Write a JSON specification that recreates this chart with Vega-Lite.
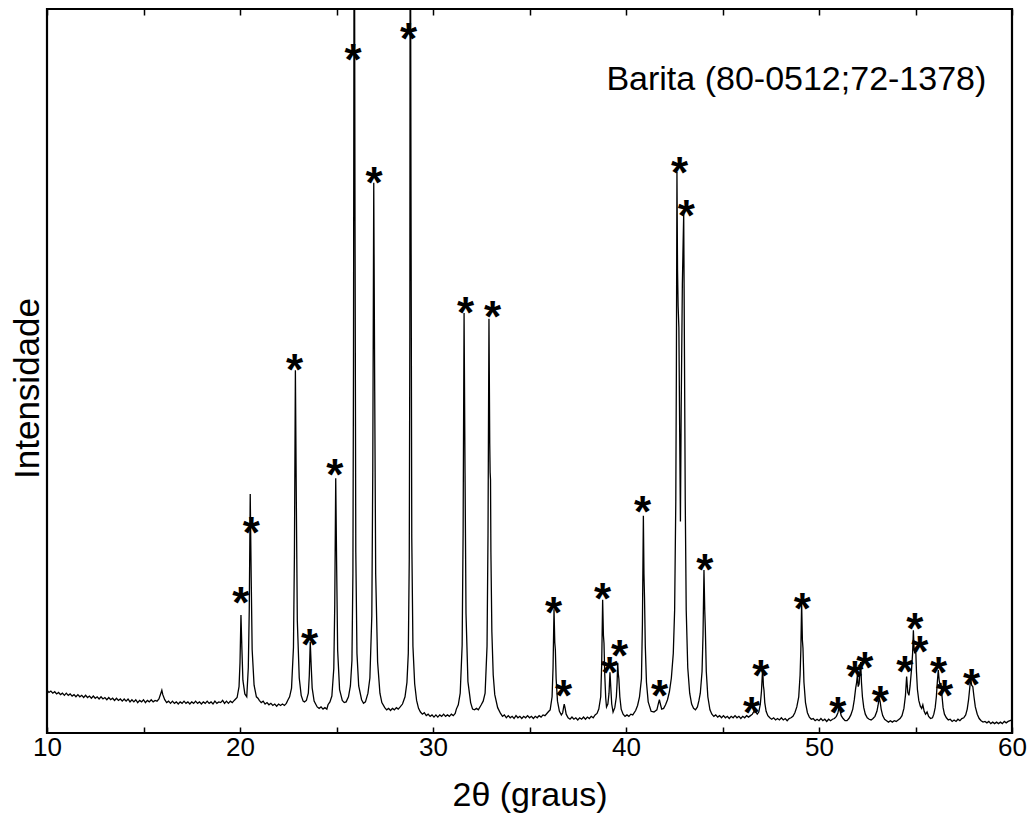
{
  "$schema": "https://vega.github.io/schema/vega-lite/v6.json",
  "width": 965,
  "height": 724,
  "autosize": "none",
  "padding": {"left": 47, "top": 9, "right": 22, "bottom": 83},
  "background": "white",
  "config": {"view": {"stroke": "black", "strokeWidth": 2.2}, "font": "Liberation Sans", "axis": {"grid": false}},
  "datasets": {
    "xrd": [
      {"t":10.0,"i":5.9},{"t":10.1,"i":5.6},{"t":10.2,"i":5.8},{"t":10.3,"i":5.5},{"t":10.4,"i":5.7},{"t":10.5,"i":5.4},{"t":10.6,"i":5.6},{"t":10.7,"i":5.3},{"t":10.8,"i":5.5},{"t":10.9,"i":5.2},
      {"t":11.0,"i":5.5},{"t":11.1,"i":5.2},{"t":11.2,"i":5.4},{"t":11.3,"i":5.1},{"t":11.4,"i":5.3},{"t":11.5,"i":5.0},{"t":11.6,"i":5.3},{"t":11.7,"i":5.0},{"t":11.8,"i":5.2},{"t":11.9,"i":4.9},
      {"t":12.0,"i":5.2},{"t":12.1,"i":4.9},{"t":12.2,"i":5.1},{"t":12.3,"i":4.8},{"t":12.4,"i":5.1},{"t":12.5,"i":4.8},{"t":12.6,"i":5.0},{"t":12.7,"i":4.7},{"t":12.8,"i":5.0},{"t":12.9,"i":4.7},
      {"t":13.0,"i":4.9},{"t":13.1,"i":4.6},{"t":13.2,"i":4.9},{"t":13.3,"i":4.6},{"t":13.4,"i":4.8},{"t":13.5,"i":4.5},{"t":13.6,"i":4.8},{"t":13.7,"i":4.5},{"t":13.8,"i":4.7},{"t":13.9,"i":4.4},
      {"t":14.0,"i":4.7},{"t":14.1,"i":4.4},{"t":14.2,"i":4.7},{"t":14.3,"i":4.3},{"t":14.4,"i":4.6},{"t":14.5,"i":4.3},{"t":14.6,"i":4.6},{"t":14.7,"i":4.2},{"t":14.8,"i":4.5},{"t":14.9,"i":4.3},
      {"t":15.0,"i":4.6},{"t":15.1,"i":4.2},{"t":15.2,"i":4.5},{"t":15.3,"i":4.3},{"t":15.4,"i":4.6},{"t":15.5,"i":4.3},{"t":15.6,"i":4.5},{"t":15.7,"i":4.4},{"t":15.8,"i":4.7},{"t":15.9,"i":5.5},
      {"t":15.95,"i":5.9},{"t":16.0,"i":5.3},{"t":16.1,"i":4.6},{"t":16.2,"i":4.2},{"t":16.3,"i":4.4},{"t":16.4,"i":4.1},{"t":16.5,"i":4.4},{"t":16.6,"i":4.1},{"t":16.7,"i":4.3},{"t":16.8,"i":4.0},{"t":16.9,"i":4.3},
      {"t":17.0,"i":4.1},{"t":17.1,"i":4.4},{"t":17.2,"i":4.1},{"t":17.3,"i":4.3},{"t":17.4,"i":4.0},{"t":17.5,"i":4.3},{"t":17.6,"i":4.1},{"t":17.7,"i":4.4},{"t":17.8,"i":4.1},{"t":17.9,"i":4.3},
      {"t":18.0,"i":4.0},{"t":18.1,"i":4.3},{"t":18.2,"i":4.1},{"t":18.3,"i":4.4},{"t":18.4,"i":4.1},{"t":18.5,"i":4.3},{"t":18.6,"i":4.0},{"t":18.7,"i":4.4},{"t":18.8,"i":4.1},{"t":18.9,"i":4.3},
      {"t":19.0,"i":4.2},{"t":19.1,"i":4.5},{"t":19.2,"i":4.1},{"t":19.3,"i":4.4},{"t":19.4,"i":4.1},{"t":19.5,"i":4.4},{"t":19.6,"i":4.2},{"t":19.7,"i":4.5},
      {"t":19.85,"i":4.9},{"t":19.95,"i":6.4},{"t":20.0,"i":9.7},{"t":20.05,"i":16.3},{"t":20.1,"i":11.5},{"t":20.15,"i":7.3},{"t":20.25,"i":5.4},{"t":20.35,"i":5.0},
      {"t":20.43,"i":9.0},{"t":20.48,"i":17.0},{"t":20.53,"i":33.0},{"t":20.58,"i":21.5},{"t":20.63,"i":11.5},{"t":20.73,"i":6.6},{"t":20.85,"i":5.0},{"t":20.93,"i":4.8},
      {"t":21.0,"i":4.5},{"t":21.1,"i":4.2},{"t":21.2,"i":4.4},{"t":21.3,"i":4.0},{"t":21.4,"i":4.2},{"t":21.5,"i":3.9},{"t":21.6,"i":4.1},{"t":21.7,"i":3.8},{"t":21.8,"i":4.0},{"t":21.9,"i":3.7},
      {"t":22.0,"i":4.0},{"t":22.1,"i":3.8},{"t":22.2,"i":4.0},{"t":22.3,"i":3.8},{"t":22.4,"i":4.1},{"t":22.47,"i":4.5},{"t":22.57,"i":5.0},{"t":22.67,"i":6.2},{"t":22.77,"i":11.8},{"t":22.82,"i":24.7},
      {"t":22.87,"i":50.1},{"t":22.92,"i":31.6},{"t":22.97,"i":15.5},{"t":23.07,"i":7.6},{"t":23.17,"i":5.2},{"t":23.27,"i":4.4},{"t":23.34,"i":4.3},{"t":23.44,"i":4.5},{"t":23.54,"i":5.5},{"t":23.59,"i":7.9},
      {"t":23.64,"i":12.6},{"t":23.69,"i":9.2},{"t":23.74,"i":6.2},{"t":23.84,"i":4.4},{"t":23.94,"i":3.9},{"t":24.0,"i":3.6},{"t":24.1,"i":3.4},{"t":24.2,"i":3.6},{"t":24.3,"i":3.3},{"t":24.4,"i":3.5},
      {"t":24.5,"i":3.3},{"t":24.56,"i":3.9},{"t":24.66,"i":4.3},{"t":24.76,"i":5.1},{"t":24.86,"i":8.9},{"t":24.91,"i":17.8},{"t":24.96,"i":35.2},{"t":25.01,"i":22.5},{"t":25.06,"i":11.4},{"t":25.16,"i":6.0},
      {"t":25.3,"i":4.5},{"t":25.4,"i":4.2},{"t":25.5,"i":4.3},{"t":25.62,"i":5.0},{"t":25.72,"i":6.5},{"t":25.8,"i":10},{"t":25.85,"i":22},{"t":25.88,"i":50},{"t":25.92,"i":130},{"t":25.96,"i":70},
      {"t":26.0,"i":25},{"t":26.06,"i":11},{"t":26.15,"i":6.5},{"t":26.3,"i":4.6},{"t":26.4,"i":4.1},{"t":26.5,"i":4.3},{"t":26.63,"i":5.5},{"t":26.73,"i":7.6},{"t":26.83,"i":16.2},{"t":26.88,"i":36.4},
      {"t":26.93,"i":76.0},{"t":26.98,"i":47.2},{"t":27.03,"i":22.0},{"t":27.13,"i":9.8},{"t":27.25,"i":5.5},{"t":27.35,"i":4.2},{"t":27.5,"i":3.5},{"t":27.6,"i":3.2},{"t":27.7,"i":3.4},{"t":27.8,"i":3.1},
      {"t":27.9,"i":3.4},{"t":28.0,"i":3.2},{"t":28.1,"i":3.5},{"t":28.2,"i":3.3},{"t":28.3,"i":3.6},{"t":28.42,"i":4.0},{"t":28.55,"i":5.0},{"t":28.65,"i":7.0},{"t":28.72,"i":11},{"t":28.77,"i":24},
      {"t":28.8,"i":55},{"t":28.82,"i":130},{"t":28.86,"i":75},{"t":28.9,"i":27},{"t":28.96,"i":12},{"t":29.05,"i":6.8},{"t":29.15,"i":4.5},{"t":29.25,"i":3.4},{"t":29.35,"i":2.9},{"t":29.45,"i":2.6},
      {"t":29.55,"i":2.8},{"t":29.65,"i":2.4},{"t":29.75,"i":2.6},{"t":29.85,"i":2.3},{"t":29.95,"i":2.5},{"t":30.05,"i":2.2},{"t":30.15,"i":2.5},{"t":30.25,"i":2.2},{"t":30.35,"i":2.5},{"t":30.45,"i":2.3},
      {"t":30.55,"i":2.6},{"t":30.65,"i":2.3},{"t":30.75,"i":2.5},{"t":30.85,"i":2.3},{"t":30.95,"i":2.6},{"t":31.05,"i":2.4},{"t":31.15,"i":2.7},{"t":31.21,"i":3.3},{"t":31.31,"i":3.9},{"t":31.41,"i":5.5},
      {"t":31.51,"i":12.1},{"t":31.56,"i":27.6},{"t":31.61,"i":58.0},{"t":31.66,"i":35.9},{"t":31.71,"i":16.5},{"t":31.81,"i":7.1},{"t":31.95,"i":4.2},{"t":32.05,"i":3.3},{"t":32.15,"i":3.2},{"t":32.25,"i":3.4},
      {"t":32.35,"i":3.2},{"t":32.5,"i":3.9},{"t":32.6,"i":4.4},{"t":32.7,"i":5.5},{"t":32.8,"i":12.0},{"t":32.85,"i":27.3},{"t":32.9,"i":57.2},{"t":32.94,"i":40.0},{"t":32.96,"i":36.0},{"t":32.98,"i":35.0},
      {"t":33.0,"i":25},{"t":33.05,"i":14},{"t":33.12,"i":8.0},{"t":33.2,"i":5.3},{"t":33.35,"i":3.5},{"t":33.5,"i":2.7},{"t":33.6,"i":2.3},{"t":33.7,"i":2.5},{"t":33.8,"i":2.1},{"t":33.9,"i":2.4},
      {"t":34.0,"i":2.1},{"t":34.1,"i":2.3},{"t":34.2,"i":2.0},{"t":34.3,"i":2.4},{"t":34.4,"i":2.1},{"t":34.5,"i":2.3},{"t":34.6,"i":2.0},{"t":34.7,"i":2.3},{"t":34.8,"i":2.1},{"t":34.9,"i":2.4},
      {"t":35.0,"i":2.1},{"t":35.1,"i":2.3},{"t":35.2,"i":2.0},{"t":35.3,"i":2.3},{"t":35.4,"i":2.1},{"t":35.5,"i":2.4},{"t":35.6,"i":2.2},{"t":35.7,"i":2.5},{"t":35.8,"i":2.4},{"t":35.9,"i":2.7},
      {"t":36.0,"i":3.0},{"t":36.07,"i":3.2},{"t":36.17,"i":5.0},{"t":36.22,"i":9.0},{"t":36.27,"i":17.1},{"t":36.31,"i":12.5},{"t":36.34,"i":11.5},{"t":36.38,"i":7.5},{"t":36.45,"i":4.4},{"t":36.55,"i":3.0},
      {"t":36.65,"i":2.5},{"t":36.72,"i":2.8},{"t":36.77,"i":3.6},{"t":36.8,"i":4.0},{"t":36.84,"i":3.5},{"t":36.9,"i":2.6},{"t":37.0,"i":2.1},{"t":37.1,"i":1.9},{"t":37.2,"i":2.2},{"t":37.3,"i":1.9},
      {"t":37.4,"i":2.1},{"t":37.5,"i":1.8},{"t":37.6,"i":2.1},{"t":37.7,"i":1.9},{"t":37.8,"i":2.2},{"t":37.9,"i":1.9},{"t":38.0,"i":2.2},{"t":38.1,"i":2.0},{"t":38.2,"i":2.3},{"t":38.3,"i":2.1},
      {"t":38.4,"i":2.5},{"t":38.5,"i":2.7},{"t":38.59,"i":3.3},{"t":38.69,"i":5.0},{"t":38.74,"i":9.5},{"t":38.79,"i":18.4},{"t":38.83,"i":13.5},{"t":38.86,"i":12.4},{"t":38.9,"i":8.0},{"t":38.95,"i":4.8},
      {"t":38.99,"i":3.6},{"t":39.06,"i":4.0},{"t":39.12,"i":5.5},{"t":39.17,"i":8.4},{"t":39.21,"i":6.4},{"t":39.26,"i":4.0},{"t":39.33,"i":2.9},{"t":39.42,"i":3.5},{"t":39.5,"i":5.0},{"t":39.54,"i":7.0},
      {"t":39.57,"i":9.7},{"t":39.6,"i":8.2},{"t":39.63,"i":7.5},{"t":39.68,"i":5.0},{"t":39.75,"i":3.3},{"t":39.85,"i":2.6},{"t":39.95,"i":2.3},{"t":40.05,"i":2.5},{"t":40.15,"i":2.3},{"t":40.25,"i":2.6},
      {"t":40.35,"i":2.5},{"t":40.5,"i":3.1},{"t":40.6,"i":3.8},{"t":40.7,"i":5.0},{"t":40.8,"i":7.5},{"t":40.85,"i":15},{"t":40.9,"i":30.0},{"t":40.93,"i":22},{"t":40.96,"i":18.6},{"t":41.0,"i":12},
      {"t":41.06,"i":7.0},{"t":41.15,"i":4.3},{"t":41.3,"i":3.0},{"t":41.45,"i":2.9},{"t":41.6,"i":3.2},{"t":41.68,"i":4.1},{"t":41.73,"i":4.6},{"t":41.78,"i":4.0},{"t":41.85,"i":3.3},{"t":41.95,"i":3.4},
      {"t":42.05,"i":3.9},{"t":42.15,"i":4.6},{"t":42.25,"i":5.7},{"t":42.35,"i":7.6},{"t":42.45,"i":11},{"t":42.52,"i":17},{"t":42.58,"i":32},{"t":42.61,"i":50},{"t":42.64,"i":77.5},{"t":42.67,"i":64},
      {"t":42.7,"i":59},{"t":42.74,"i":56},{"t":42.78,"i":42},{"t":42.82,"i":29.2},{"t":42.86,"i":45},{"t":42.92,"i":62},{"t":42.99,"i":71.8},{"t":43.03,"i":52},{"t":43.07,"i":32},{"t":43.12,"i":17},
      {"t":43.2,"i":9},{"t":43.3,"i":5.5},{"t":43.4,"i":4.0},{"t":43.5,"i":3.4},{"t":43.6,"i":3.2},{"t":43.7,"i":3.6},{"t":43.78,"i":4.5},{"t":43.85,"i":5.5},{"t":43.94,"i":8.5},{"t":43.99,"i":13.5},
      {"t":44.04,"i":22.5},{"t":44.08,"i":17},{"t":44.11,"i":14.5},{"t":44.16,"i":8.5},{"t":44.24,"i":5.0},{"t":44.35,"i":3.2},{"t":44.45,"i":2.6},{"t":44.55,"i":2.3},{"t":44.65,"i":2.5},{"t":44.75,"i":2.2},
      {"t":44.85,"i":2.4},{"t":44.95,"i":2.1},{"t":45.05,"i":2.4},{"t":45.15,"i":2.1},{"t":45.25,"i":2.3},{"t":45.35,"i":2.0},{"t":45.45,"i":2.3},{"t":45.55,"i":2.1},{"t":45.65,"i":2.4},{"t":45.75,"i":2.1},
      {"t":45.85,"i":2.3},{"t":45.95,"i":2.0},{"t":46.05,"i":2.3},{"t":46.15,"i":2.1},{"t":46.25,"i":2.4},{"t":46.35,"i":2.2},{"t":46.45,"i":2.4},{"t":46.55,"i":2.6},{"t":46.63,"i":3.0},{"t":46.68,"i":3.3},
      {"t":46.73,"i":2.9},{"t":46.8,"i":2.6},{"t":46.88,"i":2.9},{"t":46.96,"i":4.0},{"t":47.02,"i":5.8},{"t":47.08,"i":9.0},{"t":47.12,"i":6.5},{"t":47.15,"i":5.9},{"t":47.19,"i":4.2},{"t":47.26,"i":3.0},
      {"t":47.35,"i":2.4},{"t":47.45,"i":2.1},{"t":47.55,"i":1.9},{"t":47.65,"i":2.1},{"t":47.75,"i":1.8},{"t":47.85,"i":2.0},{"t":47.95,"i":1.8},{"t":48.05,"i":2.1},{"t":48.15,"i":1.8},{"t":48.25,"i":2.0},
      {"t":48.35,"i":1.7},{"t":48.45,"i":2.0},{"t":48.55,"i":2.1},{"t":48.65,"i":2.3},{"t":48.75,"i":2.8},{"t":48.85,"i":3.6},{"t":48.95,"i":5.0},{"t":49.02,"i":8.0},{"t":49.06,"i":11.5},{"t":49.1,"i":18.0},
      {"t":49.14,"i":12.8},{"t":49.17,"i":11.7},{"t":49.22,"i":7.0},{"t":49.3,"i":4.2},{"t":49.4,"i":2.8},{"t":49.5,"i":2.2},{"t":49.6,"i":1.9},{"t":49.7,"i":2.0},{"t":49.8,"i":1.7},{"t":49.9,"i":1.9},
      {"t":50.0,"i":1.7},{"t":50.1,"i":2.0},{"t":50.2,"i":1.7},{"t":50.3,"i":1.9},{"t":50.4,"i":1.6},{"t":50.5,"i":1.9},{"t":50.6,"i":1.7},{"t":50.7,"i":1.9},{"t":50.8,"i":2.0},{"t":50.9,"i":2.3},
      {"t":50.98,"i":2.8},{"t":51.02,"i":3.3},{"t":51.05,"i":3.6},{"t":51.09,"i":3.1},{"t":51.15,"i":2.4},{"t":51.25,"i":2.0},{"t":51.35,"i":1.7},{"t":51.45,"i":1.7},{"t":51.55,"i":2.0},{"t":51.65,"i":2.5},
      {"t":51.75,"i":3.3},{"t":51.83,"i":4.6},{"t":51.9,"i":6.2},{"t":51.95,"i":7.0},{"t":51.99,"i":8.0},{"t":52.03,"i":6.4},{"t":52.08,"i":6.8},{"t":52.12,"i":8.5},{"t":52.16,"i":9.8},{"t":52.2,"i":7.0},
      {"t":52.25,"i":5.0},{"t":52.32,"i":3.5},{"t":52.4,"i":2.6},{"t":52.5,"i":2.1},{"t":52.6,"i":1.9},{"t":52.7,"i":1.8},{"t":52.8,"i":2.0},{"t":52.9,"i":2.3},{"t":53.0,"i":3.0},{"t":53.06,"i":3.8},
      {"t":53.1,"i":4.5},{"t":53.13,"i":4.8},{"t":53.17,"i":4.3},{"t":53.22,"i":3.3},{"t":53.3,"i":2.4},{"t":53.4,"i":1.9},{"t":53.5,"i":1.7},{"t":53.6,"i":1.5},{"t":53.7,"i":1.7},{"t":53.8,"i":1.5},
      {"t":53.9,"i":1.7},{"t":54.0,"i":1.6},{"t":54.1,"i":1.8},{"t":54.2,"i":2.0},{"t":54.3,"i":2.4},{"t":54.4,"i":3.4},{"t":54.48,"i":5.2},{"t":54.54,"i":7.8},{"t":54.6,"i":5.6},{"t":54.66,"i":5.2},
      {"t":54.72,"i":6.5},{"t":54.8,"i":9.0},{"t":54.85,"i":11.0},{"t":54.89,"i":14.2},{"t":54.93,"i":11.5},{"t":54.96,"i":11.0},{"t":55.01,"i":11.7},{"t":55.05,"i":8.5},{"t":55.1,"i":6.0},{"t":55.17,"i":4.5},
      {"t":55.25,"i":3.7},{"t":55.32,"i":3.4},{"t":55.38,"i":3.9},{"t":55.45,"i":3.0},{"t":55.52,"i":2.6},{"t":55.6,"i":2.9},{"t":55.68,"i":2.3},{"t":55.78,"i":2.0},{"t":55.88,"i":2.1},{"t":55.95,"i":2.6},
      {"t":56.02,"i":3.5},{"t":56.08,"i":5.0},{"t":56.13,"i":7.0},{"t":56.18,"i":8.7},{"t":56.23,"i":7.2},{"t":56.27,"i":6.6},{"t":56.32,"i":6.9},{"t":56.37,"i":5.2},{"t":56.43,"i":3.5},{"t":56.5,"i":2.6},
      {"t":56.6,"i":2.1},{"t":56.7,"i":1.8},{"t":56.8,"i":1.9},{"t":56.9,"i":1.6},{"t":57.0,"i":1.8},{"t":57.1,"i":1.6},{"t":57.2,"i":1.9},{"t":57.3,"i":1.7},{"t":57.4,"i":2.0},{"t":57.5,"i":2.1},
      {"t":57.6,"i":2.5},{"t":57.68,"i":3.3},{"t":57.75,"i":4.6},{"t":57.81,"i":6.2},{"t":57.86,"i":7.6},{"t":57.91,"i":6.6},{"t":57.97,"i":6.4},{"t":58.03,"i":5.0},{"t":58.1,"i":3.6},{"t":58.2,"i":2.6},
      {"t":58.3,"i":2.0},{"t":58.4,"i":1.7},{"t":58.5,"i":1.5},{"t":58.6,"i":1.6},{"t":58.7,"i":1.4},{"t":58.8,"i":1.6},{"t":58.9,"i":1.3},{"t":59.0,"i":1.5},{"t":59.1,"i":1.3},{"t":59.2,"i":1.5},
      {"t":59.3,"i":1.3},{"t":59.4,"i":1.5},{"t":59.5,"i":1.3},{"t":59.6,"i":1.6},{"t":59.7,"i":1.4},{"t":59.8,"i":1.6},{"t":59.9,"i":1.7},{"t":60.0,"i":1.8}
    ],
    "stars": [
      {"t":20.04,"i":19.3},{"t":20.59,"i":29.0},{"t":22.83,"i":51.5},{"t":23.61,"i":13.5},{"t":24.91,"i":37.0},
      {"t":25.86,"i":94.3},{"t":26.94,"i":77.4},{"t":28.74,"i":97.2},{"t":31.69,"i":59.4},{"t":33.09,"i":58.8},
      {"t":36.25,"i":18.0},{"t":36.77,"i":6.5},{"t":38.79,"i":19.9},{"t":39.15,"i":9.7},{"t":39.67,"i":12.0},
      {"t":40.86,"i":31.9},{"t":41.74,"i":6.5},{"t":42.78,"i":78.7},{"t":43.13,"i":72.8},{"t":44.08,"i":23.9},
      {"t":46.5,"i":4.2},{"t":46.98,"i":9.25},{"t":49.14,"i":18.5},{"t":50.97,"i":4.1},{"t":51.85,"i":9.1},
      {"t":52.37,"i":10.4},{"t":53.18,"i":5.7},{"t":54.44,"i":9.85},{"t":54.96,"i":15.75},{"t":55.22,"i":12.6},
      {"t":56.2,"i":9.67},{"t":56.51,"i":6.5},{"t":57.9,"i":8.0}
    ],
    "notes": [
      {"label": "Barita (80-0512;72-1378)", "t": 58.67, "i": 88.8}
    ]
  },
  "layer": [
    {
      "data": {"name": "xrd"},
      "mark": {"type": "line", "color": "black", "strokeWidth": 1.3, "clip": true},
      "encoding": {
        "x": {"field": "t", "type": "quantitative",
          "scale": {"domain": [10, 60], "nice": false, "zero": false},
          "axis": {"orient": "bottom", "values": [10,15,20,25,30,35,40,45,50,55,60],
            "labelExpr": "datum.value % 10 === 0 ? datum.label : ''",
            "tickSize": -6, "tickColor": "black", "tickWidth": 1.5, "domain": false,
            "labelFontSize": 26, "labelColor": "black", "labelBaseline": "alphabetic", "labelPadding": 28,
            "labelFlush": false, "labelOverlap": false,
            "title": "2θ (graus)", "titleFontSize": 34, "titleFontWeight": "normal", "titleColor": "black",
            "titleBaseline": "alphabetic", "titleY": 72, "titleX": 482.5, "titleAlign": "center"}},
        "y": {"field": "i", "type": "quantitative",
          "scale": {"domain": [0, 100], "nice": false, "zero": false},
          "axis": {"title": "Intensidade", "labels": false, "ticks": false, "domain": false,
            "titleFontSize": 35, "titleFontWeight": "normal", "titleColor": "black",
            "titleAngle": -90, "titleBaseline": "alphabetic", "titleAlign": "center",
            "titleX": -9, "titleY": 379}}
      }
    },
    {
      "data": {"name": "stars"},
      "mark": {"type": "text", "text": "*", "fontSize": 44, "fontWeight": "bold", "font": "Liberation Sans", "color": "black", "align": "center", "baseline": "alphabetic", "dy": 25},
      "encoding": {
        "x": {"field": "t", "type": "quantitative",
          "axis": {"orient": "top", "values": [10,15,20,25,30,35,40,45,50,55,60], "labels": false,
            "tickSize": -6, "tickColor": "black", "tickWidth": 1.5, "domain": false, "title": null}},
        "y": {"field": "i", "type": "quantitative"}
      }
    },
    {
      "data": {"name": "notes"},
      "mark": {"type": "text", "fontSize": 34, "font": "Liberation Sans", "color": "black", "align": "right", "baseline": "alphabetic"},
      "encoding": {
        "x": {"field": "t", "type": "quantitative", "axis": null},
        "y": {"field": "i", "type": "quantitative"},
        "text": {"field": "label", "type": "nominal"}
      }
    }
  ],
  "resolve": {"axis": {"x": "independent"}}
}
